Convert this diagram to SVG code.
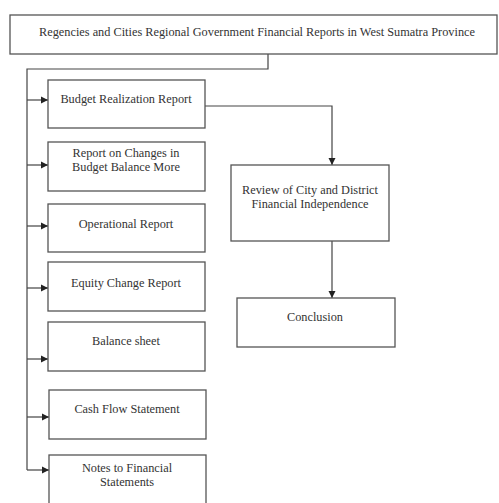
<svg xmlns="http://www.w3.org/2000/svg" width="499" height="503" viewBox="0 0 499 503">
<style>
.box{fill:#fff;stroke:#555;stroke-width:1.3}
.t{font-family:"Liberation Serif","Times New Roman",serif;font-size:12.3px;fill:#333;text-anchor:middle}
.c{fill:none;stroke:#444;stroke-width:1.2}
</style>
<defs>
<marker id="ah" markerWidth="8" markerHeight="8" refX="7" refY="4" orient="auto" markerUnits="userSpaceOnUse">
<path d="M0,0.5 L7,4 L0,7.5 Z" fill="#222"/>
</marker>
</defs>
<rect width="499" height="503" fill="#fff"/>
<g id="connectors">
<polyline class="c" points="268,54 268,69 27,69 27,470"/>
<line class="c" x1="27" y1="100" x2="48" y2="100" marker-end="url(#ah)"/>
<line class="c" x1="27" y1="165" x2="48" y2="165" marker-end="url(#ah)"/>
<line class="c" x1="27" y1="226" x2="48" y2="226" marker-end="url(#ah)"/>
<line class="c" x1="27" y1="288" x2="48" y2="288" marker-end="url(#ah)"/>
<line class="c" x1="27" y1="359" x2="48" y2="359" marker-end="url(#ah)"/>
<line class="c" x1="27" y1="417" x2="49" y2="417" marker-end="url(#ah)"/>
<line class="c" x1="27" y1="470" x2="49" y2="470" marker-end="url(#ah)"/>
<polyline class="c" points="205,106 332,106 332,165" marker-end="url(#ah)"/>
<line class="c" x1="332" y1="241" x2="332" y2="298" marker-end="url(#ah)"/>
</g>
<g id="top">
<rect class="box" x="10" y="15" width="487" height="39"/>
<text class="t" x="257" y="36">Regencies and Cities Regional Government Financial Reports in West Sumatra Province</text>
</g>
<g id="budget">
<rect class="box" x="48" y="80" width="157" height="48"/>
<text class="t" x="126" y="103">Budget Realization Report</text>
</g>
<g id="changes">
<rect class="box" x="48" y="142" width="157" height="49"/>
<text class="t" x="126" y="157">Report on Changes in</text>
<text class="t" x="126" y="171">Budget Balance More</text>
</g>
<g id="operational">
<rect class="box" x="48" y="204" width="157" height="48"/>
<text class="t" x="126" y="228">Operational Report</text>
</g>
<g id="equity">
<rect class="box" x="48" y="262" width="157" height="49"/>
<text class="t" x="126" y="287">Equity Change Report</text>
</g>
<g id="balance">
<rect class="box" x="48" y="322" width="157" height="49"/>
<text class="t" x="126" y="345">Balance sheet</text>
</g>
<g id="cashflow">
<rect class="box" x="49" y="390" width="157" height="49"/>
<text class="t" x="127" y="413">Cash Flow Statement</text>
</g>
<g id="notes">
<rect class="box" x="49" y="455" width="157" height="52"/>
<text class="t" x="127" y="472">Notes to Financial</text>
<text class="t" x="127" y="486">Statements</text>
</g>
<g id="review">
<rect class="box" x="231" y="165" width="158" height="76"/>
<text class="t" x="310" y="194">Review of City and District</text>
<text class="t" x="310" y="208">Financial Independence</text>
</g>
<g id="conclusion">
<rect class="box" x="237" y="298" width="158" height="49"/>
<text class="t" x="315" y="321">Conclusion</text>
</g>
</svg>
